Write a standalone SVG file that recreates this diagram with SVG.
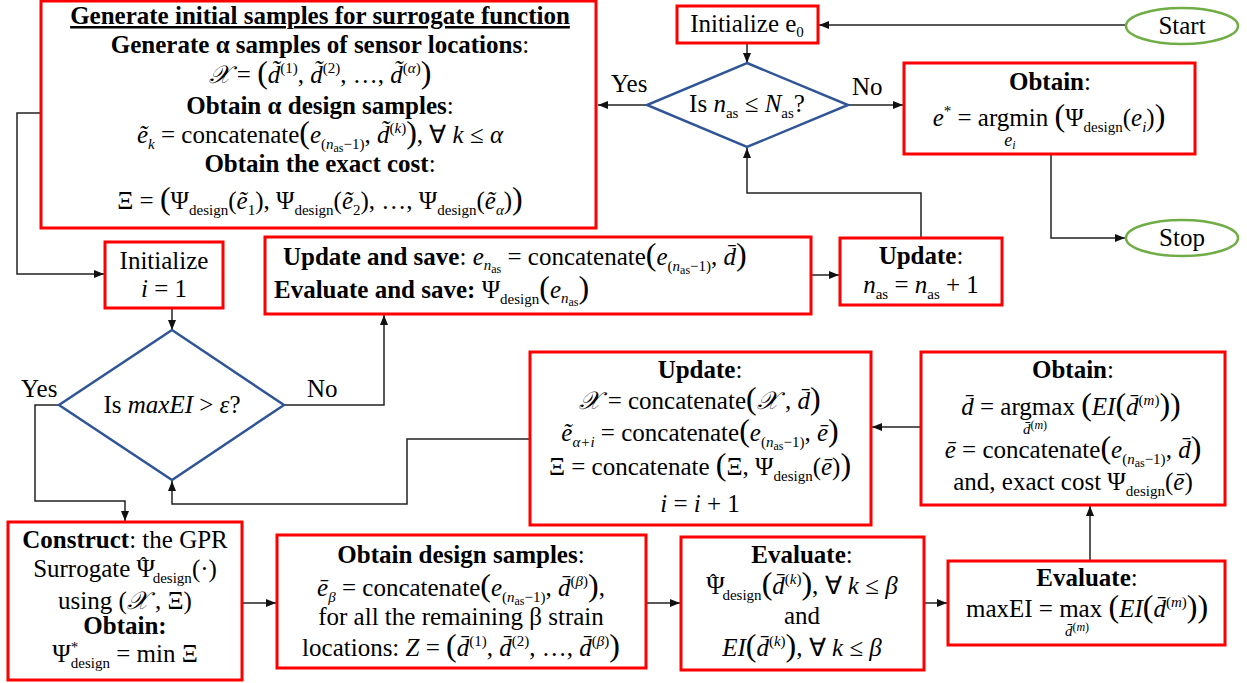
<svg xmlns="http://www.w3.org/2000/svg" width="1247" height="683" viewBox="0 0 1247 683">
<style>
.t{font-family:"Liberation Serif","Times New Roman",serif;font-size:25px;fill:#000}
.c{text-anchor:middle}
.b{font-weight:bold}
.i{font-style:italic}
.s{font-size:15px}
.xs{font-size:12px}
.p{font-size:32px}
.box{fill:#fff;stroke:#ff0000;stroke-width:3}
.dia{fill:#fff;stroke:#2f5597;stroke-width:2.5}
.ell{fill:#fff;stroke:#70ad47;stroke-width:2.5}
.con{fill:none;stroke:#222;stroke-width:1.5}
</style>
<defs>
<marker id="ah" markerUnits="userSpaceOnUse" markerWidth="11" markerHeight="9" refX="10" refY="4" orient="auto">
<path d="M0,0 L10,4 L0,8 z" fill="#111"/>
</marker>
</defs>
<rect width="1247" height="683" fill="#fff"/>

<g id="connectors">
<path class="con" d="M1126,25 L819,25" marker-end="url(#ah)"/>
<path class="con" d="M747,43 L747,63" marker-end="url(#ah)"/>
<path class="con" d="M647,105 L598,105" marker-end="url(#ah)"/>
<path class="con" d="M848,105 L903,105" marker-end="url(#ah)"/>
<path class="con" d="M1051,154 L1051,238 L1125,238" marker-end="url(#ah)"/>
<path class="con" d="M921,238 L921,193 L747,193 L747,148" marker-end="url(#ah)"/>
<path class="con" d="M41,113 L17,113 L17,274 L104,274" marker-end="url(#ah)"/>
<path class="con" d="M172,308 L172,330" marker-end="url(#ah)"/>
<path class="con" d="M284,405 L384,405 L384,315" marker-end="url(#ah)"/>
<path class="con" d="M811,275 L839,275" marker-end="url(#ah)"/>
<path class="con" d="M59,405 L35,405 L35,501 L125,501 L125,521" marker-end="url(#ah)"/>
<path class="con" d="M530,439 L407,439 L407,504 L172,504 L172,481" marker-end="url(#ah)"/>
<path class="con" d="M921,427 L872,427" marker-end="url(#ah)"/>
<path class="con" d="M1090,561 L1090,506" marker-end="url(#ah)"/>
<path class="con" d="M242,603 L276,603" marker-end="url(#ah)"/>
<path class="con" d="M646,603 L680,603" marker-end="url(#ah)"/>
<path class="con" d="M924,603 L947,603" marker-end="url(#ah)"/>
</g>

<g id="labels">
<text class="t" x="611" y="92">Yes</text>
<text class="t" x="852" y="95">No</text>
<text class="t" x="21" y="397">Yes</text>
<text class="t" x="307" y="397">No</text>
</g>

<g id="initial-samples">
<rect class="box" x="41" y="1" width="555" height="227"/>
<text class="t c b" x="320" y="24" text-decoration="underline">Generate initial samples for surrogate function</text>
<text class="t c" x="320" y="53"><tspan class="b">Generate α samples of sensor locations</tspan>:</text>
<text class="t c" x="320" y="83"><tspan class="i">𝒳</tspan> = <tspan class="p">(</tspan><tspan class="i">d&#x303;</tspan><tspan class="s" dy="-10">(1)</tspan><tspan dy="10">, </tspan><tspan class="i">d&#x303;</tspan><tspan class="s" dy="-10">(2)</tspan><tspan dy="10">, …, </tspan><tspan class="i">d&#x303;</tspan><tspan class="s" dy="-10">(<tspan class="i">α</tspan>)</tspan><tspan class="p" dy="10">)</tspan></text>
<text class="t c" x="320" y="114"><tspan class="b">Obtain α design samples</tspan>:</text>
<text class="t c" x="320" y="143"><tspan class="i">ẽ</tspan><tspan class="s i" dy="6">k</tspan><tspan dy="-6"> = concatenate</tspan><tspan class="p">(</tspan><tspan class="i">e</tspan><tspan class="s" dy="6">(<tspan class="i">n</tspan><tspan class="xs" dy="3">as</tspan><tspan dy="-3">−1)</tspan></tspan><tspan dy="-6">, </tspan><tspan class="i">d&#x303;</tspan><tspan class="s" dy="-10">(<tspan class="i">k</tspan>)</tspan><tspan class="p" dy="10">)</tspan>, ∀ <tspan class="i">k</tspan> ≤ <tspan class="i">α</tspan></text>
<text class="t c" x="320" y="172"><tspan class="b">Obtain the exact cost</tspan>:</text>
<text class="t c" x="320" y="209">Ξ = <tspan class="p">(</tspan>Ψ<tspan class="s" dy="6">design</tspan><tspan dy="-6">(</tspan><tspan class="i">ẽ</tspan><tspan class="s" dy="6">1</tspan><tspan dy="-6">), Ψ</tspan><tspan class="s" dy="6">design</tspan><tspan dy="-6">(</tspan><tspan class="i">ẽ</tspan><tspan class="s" dy="6">2</tspan><tspan dy="-6">), …, Ψ</tspan><tspan class="s" dy="6">design</tspan><tspan dy="-6">(</tspan><tspan class="i">ẽ</tspan><tspan class="s i" dy="6">α</tspan><tspan dy="-6">)</tspan><tspan class="p">)</tspan></text>
</g>

<g id="init-e0">
<rect class="box" x="677" y="6" width="141" height="37"/>
<text class="t c" x="747" y="32">Initialize e<tspan class="s" dy="5">0</tspan></text>
</g>

<g id="start">
<ellipse class="ell" cx="1182" cy="26" rx="56" ry="18"/>
<text class="t c" x="1182" y="34">Start</text>
</g>

<g id="decision-nas">
<polygon class="dia" points="747,63 848,105 747,147 647,105"/>
<text class="t c" x="747" y="112">Is <tspan class="i">n</tspan><tspan class="s" dy="6">as</tspan><tspan dy="-6"> ≤ </tspan><tspan class="i">N</tspan><tspan class="s" dy="6">as</tspan><tspan dy="-6">?</tspan></text>
</g>

<g id="obtain-optimum">
<rect class="box" x="904" y="63" width="291" height="91"/>
<text class="t c" x="1050" y="90"><tspan class="b">Obtain</tspan>:</text>
<text class="t c" x="1049" y="126"><tspan class="i">e</tspan><tspan class="s" dy="-10">*</tspan><tspan dy="10"> = argmin </tspan><tspan class="p">(</tspan>Ψ<tspan class="s" dy="6">design</tspan><tspan dy="-6">(</tspan><tspan class="i">e</tspan><tspan class="s i" dy="6">i</tspan><tspan dy="-6">)</tspan><tspan class="p">)</tspan></text>
<text class="t c" x="1010" y="146"><tspan class="i" font-size="18">e</tspan><tspan class="xs i" dy="3">i</tspan></text>
</g>

<g id="stop">
<ellipse class="ell" cx="1182" cy="238" rx="56" ry="18"/>
<text class="t c" x="1182" y="246">Stop</text>
</g>

<g id="update-save">
<rect class="box" x="265" y="237" width="546" height="77"/>
<text class="t" x="283" y="265"><tspan class="b">Update and save</tspan>: <tspan class="i">e</tspan><tspan class="s i" dy="5">n</tspan><tspan class="xs" dy="3">as</tspan><tspan dy="-8"> = concatenate</tspan><tspan class="p">(</tspan><tspan class="i">e</tspan><tspan class="s" dy="6">(<tspan class="i">n</tspan><tspan class="xs" dy="3">as</tspan><tspan dy="-3">−1)</tspan></tspan><tspan dy="-6">, </tspan><tspan class="i">d&#x304;</tspan><tspan class="p">)</tspan></text>
<text class="t" x="274" y="298"><tspan class="b">Evaluate and save:</tspan> Ψ<tspan class="s" dy="6">design</tspan><tspan class="p" dy="-6">(</tspan><tspan class="i">e</tspan><tspan class="s i" dy="5">n</tspan><tspan class="xs" dy="3">as</tspan><tspan class="p" dy="-8">)</tspan></text>
</g>

<g id="update-nas">
<rect class="box" x="840" y="238" width="162" height="67"/>
<text class="t c" x="921" y="264"><tspan class="b">Update</tspan>:</text>
<text class="t c" x="921" y="293"><tspan class="i">n</tspan><tspan class="s" dy="6">as</tspan><tspan dy="-6"> = </tspan><tspan class="i">n</tspan><tspan class="s" dy="6">as</tspan><tspan dy="-6"> + 1</tspan></text>
</g>

<g id="init-i">
<rect class="box" x="105" y="242" width="118" height="66"/>
<text class="t c" x="164" y="269">Initialize</text>
<text class="t c" x="164" y="297"><tspan class="i">i</tspan> = 1</text>
</g>

<g id="decision-ei">
<polygon class="dia" points="172,330 284,405 172,480 59,405"/>
<text class="t c" x="172" y="413">Is <tspan class="i">maxEI</tspan> &gt; <tspan class="i">ε</tspan>?</text>
</g>

<g id="update-samples">
<rect class="box" x="530" y="352" width="341" height="173"/>
<text class="t c" x="700" y="378"><tspan class="b">Update</tspan>:</text>
<text class="t c" x="700" y="409"><tspan class="i">𝒳</tspan> = concatenate<tspan class="p">(</tspan><tspan class="i">𝒳</tspan> , <tspan class="i">d&#x304;</tspan><tspan class="p">)</tspan></text>
<text class="t c" x="700" y="441"><tspan class="i">ẽ</tspan><tspan class="s i" dy="6">α+i</tspan><tspan dy="-6"> = concatenate</tspan><tspan class="p">(</tspan><tspan class="i">e</tspan><tspan class="s" dy="6">(<tspan class="i">n</tspan><tspan class="xs" dy="3">as</tspan><tspan dy="-3">−1)</tspan></tspan><tspan dy="-6">, </tspan><tspan class="i">ē</tspan><tspan class="p">)</tspan></text>
<text class="t c" x="700" y="475">Ξ = concatenate <tspan class="p">(</tspan>Ξ, Ψ<tspan class="s" dy="6">design</tspan><tspan dy="-6">(</tspan><tspan class="i">ē</tspan>)<tspan class="p">)</tspan></text>
<text class="t c" x="700" y="512"><tspan class="i">i</tspan> = <tspan class="i">i</tspan> + 1</text>
</g>

<g id="obtain-next">
<rect class="box" x="921" y="352" width="304" height="153"/>
<text class="t c" x="1073" y="378"><tspan class="b">Obtain</tspan>:</text>
<text class="t c" x="1071" y="415"><tspan class="i">d&#x304;</tspan> = argmax <tspan class="p">(</tspan><tspan class="i">EI</tspan><tspan class="p">(</tspan><tspan class="i">d&#x304;</tspan><tspan class="s" dy="-10">(<tspan class="i">m</tspan>)</tspan><tspan class="p" dy="10">)</tspan><tspan class="p">)</tspan></text>
<text class="t c s" x="1035" y="434"><tspan class="i">d&#x304;</tspan><tspan class="xs" dy="-5">(<tspan class="i">m</tspan>)</tspan></text>
<text class="t c" x="1073" y="458"><tspan class="i">ē</tspan> = concatenate<tspan class="p">(</tspan><tspan class="i">e</tspan><tspan class="s" dy="6">(<tspan class="i">n</tspan><tspan class="xs" dy="3">as</tspan><tspan dy="-3">−1)</tspan></tspan><tspan dy="-6">, </tspan><tspan class="i">d&#x304;</tspan><tspan class="p">)</tspan></text>
<text class="t c" x="1073" y="490">and, exact cost Ψ<tspan class="s" dy="6">design</tspan><tspan dy="-6">(</tspan><tspan class="i">ē</tspan>)</text>
</g>

<g id="construct">
<rect class="box" x="8" y="522" width="234" height="158"/>
<text class="t c" x="125" y="548"><tspan class="b">Construct</tspan>:  the GPR</text>
<text class="t c" x="125" y="577">Surrogate Ψ<tspan dx="-15" dy="-5" font-size="20">ˆ</tspan><tspan class="s" dx="6" dy="11">design</tspan><tspan dy="-6">(·)</tspan></text>
<text class="t c" x="125" y="609">using (<tspan class="i">𝒳</tspan> , Ξ)</text>
<text class="t c b" x="125" y="634">Obtain:</text>
<text class="t c" x="125" y="662">Ψ<tspan class="s" dy="-10">*</tspan><tspan class="s" dx="-7.5" dy="16">design</tspan><tspan dy="-6"> = min Ξ</tspan></text>
</g>

<g id="obtain-design-samples">
<rect class="box" x="277" y="535" width="369" height="133"/>
<text class="t c" x="461" y="563"><tspan class="b">Obtain design samples</tspan>:</text>
<text class="t c" x="461" y="596"><tspan class="i">ē</tspan><tspan class="s i" dy="6">β</tspan><tspan dy="-6"> = concatenate</tspan><tspan class="p">(</tspan><tspan class="i">e</tspan><tspan class="s" dy="6">(<tspan class="i">n</tspan><tspan class="xs" dy="3">as</tspan><tspan dy="-3">−1)</tspan></tspan><tspan dy="-6">, </tspan><tspan class="i">d&#x304;</tspan><tspan class="s" dy="-10">(<tspan class="i">β</tspan>)</tspan><tspan class="p" dy="10">)</tspan>,</text>
<text class="t c" x="461" y="625">for all the remaining β strain</text>
<text class="t c" x="461" y="656">locations: <tspan class="i">Z</tspan> = <tspan class="p">(</tspan><tspan class="i">d&#x304;</tspan><tspan class="s" dy="-10">(1)</tspan><tspan dy="10">, </tspan><tspan class="i">d&#x304;</tspan><tspan class="s" dy="-10">(2)</tspan><tspan dy="10">, …, </tspan><tspan class="i">d&#x304;</tspan><tspan class="s" dy="-10">(<tspan class="i">β</tspan>)</tspan><tspan class="p" dy="10">)</tspan></text>
</g>

<g id="evaluate-surrogate">
<rect class="box" x="681" y="537" width="243" height="133"/>
<text class="t c" x="802" y="563"><tspan class="b">Evaluate</tspan>:</text>
<text class="t c" x="802" y="594">Ψ<tspan dx="-15" dy="-5" font-size="20">ˆ</tspan><tspan class="s" dx="6" dy="11">design</tspan><tspan class="p" dy="-6">(</tspan><tspan class="i">d&#x304;</tspan><tspan class="s" dy="-10">(<tspan class="i">k</tspan>)</tspan><tspan class="p" dy="10">)</tspan>, ∀ <tspan class="i">k</tspan> ≤ <tspan class="i">β</tspan></text>
<text class="t c" x="802" y="624">and</text>
<text class="t c" x="802" y="656"><tspan class="i">EI</tspan><tspan class="p">(</tspan><tspan class="i">d&#x304;</tspan><tspan class="s" dy="-10">(<tspan class="i">k</tspan>)</tspan><tspan class="p" dy="10">)</tspan>, ∀ <tspan class="i">k</tspan> ≤ <tspan class="i">β</tspan></text>
</g>

<g id="evaluate-maxei">
<rect class="box" x="948" y="561" width="277" height="84"/>
<text class="t c" x="1087" y="586"><tspan class="b">Evaluate</tspan>:</text>
<text class="t c" x="1087" y="617">maxEI = max <tspan class="p">(</tspan><tspan class="i">EI</tspan><tspan class="p">(</tspan><tspan class="i">d&#x304;</tspan><tspan class="s" dy="-10">(<tspan class="i">m</tspan>)</tspan><tspan class="p" dy="10">)</tspan><tspan class="p">)</tspan></text>
<text class="t c s" x="1077" y="636"><tspan class="i">d&#x304;</tspan><tspan class="xs" dy="-5">(<tspan class="i">m</tspan>)</tspan></text>
</g>
</svg>
